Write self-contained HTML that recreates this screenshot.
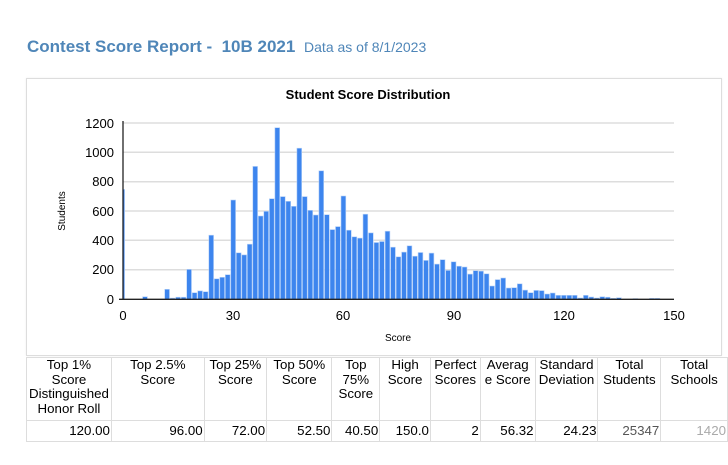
<!DOCTYPE html>
<html><head><meta charset="utf-8"><style>
body{margin:0;width:728px;height:465px;background:#fff;font-family:"Liberation Sans",sans-serif;position:relative;overflow:hidden}
.title{position:absolute;left:27px;top:37px;font-size:17px;font-weight:bold;color:#4f86b8;white-space:nowrap}
.title span{font-weight:normal;font-size:14px;margin-left:4px}
.card{position:absolute;left:26px;top:78px;width:694px;height:276px;border:1px solid #ddd;box-shadow:0 0 2px #eee}
table{position:absolute;left:26px;top:357px;border-collapse:collapse;font-size:13.3px;color:#000}
td{border:1px solid #ddd;padding:0 1px;vertical-align:top;line-height:14.6px}
tr.h td{text-align:center;height:62px}
tr.v td{text-align:right;height:20px;vertical-align:middle}
</style></head><body>
<div class="title">Contest Score Report -&nbsp; 10B 2021 <span>Data as of 8/1/2023</span></div>
<div class="card"></div>
<svg width="728" height="465" style="position:absolute;left:0;top:0" font-family="Liberation Sans, sans-serif">
<text x="368" y="99" text-anchor="middle" font-size="13" font-weight="bold">Student Score Distribution</text>
<g stroke="#ddd" stroke-width="1.5">
<line x1="123" y1="123" x2="674" y2="123"/><line x1="123" y1="152.3" x2="674" y2="152.3"/><line x1="123" y1="181.7" x2="674" y2="181.7"/><line x1="123" y1="211" x2="674" y2="211"/><line x1="123" y1="240.3" x2="674" y2="240.3"/><line x1="123" y1="269.7" x2="674" y2="269.7"/>
</g>
<g font-size="13" text-anchor="end">
<text x="114" y="128">1200</text><text x="114" y="157">1000</text><text x="114" y="186">800</text><text x="114" y="216">600</text><text x="114" y="245">400</text><text x="114" y="274">200</text><text x="114" y="304">0</text>
</g>
<g font-size="13" text-anchor="middle">
<text x="123" y="320">0</text><text x="233" y="320">30</text><text x="343" y="320">60</text><text x="454" y="320">90</text><text x="564" y="320">120</text><text x="674" y="320">150</text>
</g>
<text x="398" y="341" font-size="10" text-anchor="middle">Score</text>
<text transform="translate(65,211) rotate(-90)" font-size="10" text-anchor="middle">Students</text>
<g id="bars" fill="#3d85ee" stroke="#b8d3f8" stroke-width="0.6"></g>
<line x1="123" y1="121" x2="123" y2="300" stroke="#222" stroke-width="1.3"/>
<line x1="119" y1="299.3" x2="674" y2="299.3" stroke="#222" stroke-width="1.3"/>
</svg>
<script>
var v=[749,0,0,0,18,0,0,0,68,8,14,14,204,45,57,52,437,140,150,168,677,317,303,376,906,568,600,686,1170,700,668,634,1030,700,607,575,876,577,475,496,704,471,426,417,580,453,387,394,464,355,290,322,365,294,319,265,315,240,270,197,256,226,220,172,195,192,174,91,134,145,77,79,106,63,45,61,59,36,43,27,27,27,27,9,27,16,9,18,14,7,11,0,0,5,0,0,7,7,0,0,0];
var g=document.getElementById('bars'),s='';
for(var i=0;i<v.length;i++){if(!v[i])continue;var c=123+3.673*1.5*i,h=v[i]*0.14667,x=c-2.4,w=4.8;if(i==0){x=123;w=1.6;}
s+='<rect x="'+x.toFixed(1)+'" y="'+(299.3-h).toFixed(1)+'" width="'+w+'" height="'+h.toFixed(1)+'"/>';}
g.innerHTML=s;
</script>
<table>
<tr class="h"><td style="width:82px">Top 1%<br>Score<br>Distinguished<br>Honor Roll</td><td style="width:91px">Top 2.5%<br>Score</td><td style="width:60px">Top 25%<br>Score</td><td style="width:63px">Top 50%<br>Score</td><td style="width:45px">Top<br>75%<br>Score</td><td style="width:48px">High<br>Score</td><td style="width:47px">Perfect<br>Scores</td><td style="width:52px">Averag<br>e Score</td><td style="width:60px">Standard<br>Deviation</td><td style="width:60px">Total<br>Students</td><td style="width:64px">Total<br>Schools</td></tr>
<tr class="v"><td>120.00</td><td>96.00</td><td>72.00</td><td>52.50</td><td>40.50</td><td>150.0</td><td>2</td><td>56.32</td><td>24.23</td><td style="color:#555">25347</td><td style="color:#aaa">1420</td></tr>
</table>
</body></html>
